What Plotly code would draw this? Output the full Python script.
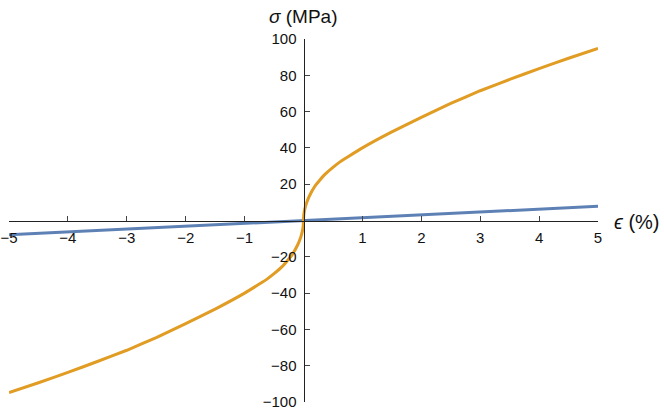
import plotly.graph_objects as go

# strain (%) and stress (MPa) (positive branch)
strain_pos = [0.0, 0.005, 0.02, 0.05, 0.1, 0.2, 0.275, 0.35, 0.5, 0.62, 0.75, 1.0, 1.5, 2.0, 2.5, 3.0, 3.5, 4.0, 4.5, 5.0]
stress_pos = [0.0, 3.0, 6.0, 9.5, 13.5, 19.2, 22.2, 25.0, 29.3, 32.3, 35.0, 40.0, 48.8, 56.8, 64.5, 71.5, 77.7, 83.7, 89.4, 94.8]

strain_lin = [-5.0, 0.0, 5.0]
stress_lin = [-7.8, 0.0, 7.8]

x_ticks = [-5, -4, -3, -2, -1, 1, 2, 3, 4, 5]
y_ticks = [-100, -80, -60, -40, -20, 20, 40, 60, 80, 100]

# curve is odd-symmetric about the origin
strain_nl = [-v for v in strain_pos[:0:-1]] + strain_pos
stress_nl = [-v for v in stress_pos[:0:-1]] + stress_pos

BLUE = "#5E81B5"
ORANGE = "#E19C24"
FONT = "Liberation Sans, Arial, sans-serif"


def minus(vals):
    return [str(v).replace("-", "\u2212") for v in vals]


fig = go.Figure()
fig.add_trace(go.Scatter(x=strain_lin, y=stress_lin, mode="lines",
                         line=dict(color=BLUE, width=3), cliponaxis=False))
fig.add_trace(go.Scatter(x=strain_nl, y=stress_nl, mode="lines",
                         line=dict(color=ORANGE, width=3, shape="spline", smoothing=0.4),
                         cliponaxis=False))

axis_common = dict(showgrid=False, zeroline=False, showline=True, linecolor="#222",
                   linewidth=1, ticks="inside", ticklen=5, tickcolor="#444",
                   tickfont=dict(family=FONT, size=15, color="#111"),
                   anchor="free", position=0.5, automargin=False)

fig.update_xaxes(range=[-5, 5], tickvals=x_ticks, ticktext=minus(x_ticks),
                 side="bottom", ticklabelstandoff=3, **axis_common)
fig.update_yaxes(range=[-100, 100], tickvals=y_ticks, ticktext=minus(y_ticks),
                 side="left", ticklabelstandoff=4, **axis_common)

fig.add_annotation(text="<i>\u03c3</i> (MPa)", xref="paper", yref="paper", x=0.499, y=1.062,
                   xanchor="center", yanchor="middle", showarrow=False,
                   font=dict(family=FONT, size=19, color="#111"))
fig.add_annotation(text="<i>\u03f5</i> (%)", xref="paper", yref="paper", x=1.066, y=0.496,
                   xanchor="center", yanchor="middle", showarrow=False,
                   font=dict(family=FONT, size=20, color="#111"))

fig.update_layout(width=664, height=415, showlegend=False,
                  plot_bgcolor="white", paper_bgcolor="white",
                  margin=dict(l=9, r=66, t=39, b=13))

# drop the browser's default 8px body margin so the figure sits at the window corner
fig.write_html("out.html", config={"displayModeBar": False},
               post_script="document.body.style.margin='0';")
